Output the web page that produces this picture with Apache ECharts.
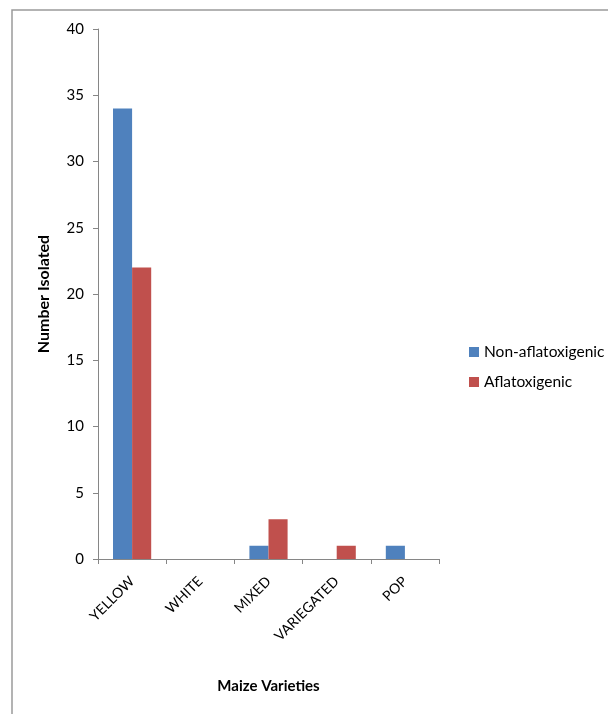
<!DOCTYPE html>
<html>
<head>
<meta charset="utf-8">
<script src="https://cdn.jsdelivr.net/npm/echarts@6/dist/echarts.min.js"></script>
<style>
html,body{margin:0;padding:0;background:#fff;}
#chart{width:608px;height:714px;}
</style>
</head>
<body>
<div id="chart"></div>
<script>
var categories = ['YELLOW', 'WHITE', 'MIXED', 'VARIEGATED', 'POP'];
var nonAflatoxigenic = [34, 0, 1, 0, 1];
var aflatoxigenic = [22, 0, 3, 1, 0];
var seriesNames = ['Non-aflatoxigenic', 'Aflatoxigenic'];

var font = 'Lato, "Open Sans", sans-serif';
var chart = echarts.init(document.getElementById('chart'));
chart.setOption({
  animation: false,
  backgroundColor: '#fff',
  color: ['#4F81BD', '#C0504D'],
  graphic: [{
    type: 'rect',
    shape: { x: 12, y: 10, width: 700, height: 800 },
    style: { fill: 'none', stroke: '#9a9a9a', lineWidth: 1.5 },
    silent: true
  }],
  grid: { left: 98, top: 29, right: 169, bottom: 155 },
  legend: {
    orient: 'vertical',
    left: 464,
    top: 339,
    itemWidth: 10,
    itemHeight: 10,
    itemGap: 14,
    icon: 'rect',
    textStyle: { fontFamily: font, fontSize: 15.5, color: '#000' },
    data: seriesNames
  },
  xAxis: {
    type: 'category',
    data: categories,
    name: 'Maize Varieties',
    nameLocation: 'middle',
    nameGap: 120,
    nameTextStyle: { fontFamily: font, fontSize: 15, fontWeight: 'bold', color: '#000' },
    axisLine: { lineStyle: { color: '#868686' } },
    axisTick: { show: true, length: 5, lineStyle: { color: '#868686' } },
    axisLabel: { rotate: 45, margin: 20, fontFamily: font, fontSize: 14, color: '#000' }
  },
  yAxis: {
    type: 'value',
    min: 0,
    max: 40,
    interval: 5,
    name: 'Number Isolated',
    nameLocation: 'middle',
    nameGap: 46,
    nameTextStyle: { fontFamily: font, fontSize: 16, fontWeight: 'bold', color: '#000' },
    splitLine: { show: false },
    axisLine: { show: true, lineStyle: { color: '#868686' } },
    axisTick: { show: true, length: 5, lineStyle: { color: '#868686' } },
    axisLabel: { margin: 14, fontFamily: font, fontSize: 15, color: '#000' }
  },
  series: [
    { name: seriesNames[0], type: 'bar', data: nonAflatoxigenic, barGap: '0%', barCategoryGap: '44%' },
    { name: seriesNames[1], type: 'bar', data: aflatoxigenic, barGap: '0%', barCategoryGap: '44%' }
  ]
});
</script>
</body>
</html>
